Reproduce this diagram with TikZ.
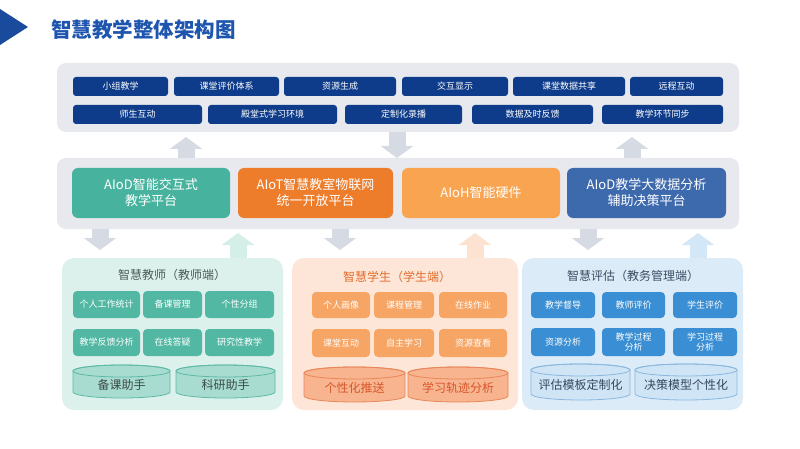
\documentclass[tikz,border=0pt]{standalone}
\usepackage{fontspec}
\setmainfont{Noto Sans CJK SC}
\usetikzlibrary{arrows.meta}
\definecolor{titleblue}{HTML}{1E55AE}
\definecolor{tri}{HTML}{1A4A9C}
\definecolor{panelgray}{HTML}{E7E9EF}
\definecolor{navy}{HTML}{0E3C8A}
\definecolor{teal1}{HTML}{47B39E}
\definecolor{orange1}{HTML}{EE7D2B}
\definecolor{orange2}{HTML}{F9A450}
\definecolor{blue1}{HTML}{3D69AD}
\definecolor{arrgray}{HTML}{D6DAE3}
\definecolor{arrteal}{HTML}{D4EEE8}
\definecolor{arrorange}{HTML}{FCE3D1}
\definecolor{arrblue}{HTML}{D3E7F6}
\definecolor{tpanel}{HTML}{DDF1EC}
\definecolor{tgrid}{HTML}{52B8A4}
\definecolor{ttitle}{HTML}{4B5B58}
\definecolor{tcylf}{HTML}{A8DCD0}
\definecolor{tcyld}{HTML}{5DB9A6}
\definecolor{tcylt}{HTML}{3B4B48}
\definecolor{opanel}{HTML}{FDE6D7}
\definecolor{ogrid}{HTML}{F6A565}
\definecolor{otitle}{HTML}{E06C2C}
\definecolor{ocylf}{HTML}{F7B48F}
\definecolor{ocyld}{HTML}{E8875A}
\definecolor{ocylt}{HTML}{D8562B}
\definecolor{bpanel}{HTML}{DCEBF8}
\definecolor{bgrid}{HTML}{3A8ED3}
\definecolor{btitle}{HTML}{3B4D63}
\definecolor{bcylf}{HTML}{CFE4F5}
\definecolor{bcyld}{HTML}{8AB7DD}
\definecolor{bcylt}{HTML}{34495E}
\newcommand\bx[7]{\node[#6, minimum width={(#4-#2)*1pt}, minimum height={(#5-#3)*1pt}] (#1) at ({(#2+#4)/2},{(#3+#5)/2}) {#7};}
\newcommand\mycyl[9]{%
  \pgfmathsetmacro\cyX{(#2+#4)/2}\pgfmathsetmacro\cyR{(#4-#2)/2}%
  \filldraw[fill=#6, draw=#7, line width=0.8pt] (#2,#3+6) -- (#2,#5-6)
    arc[start angle=180, end angle=360, x radius=\cyR pt, y radius=6pt] -- (#4,#3+6)
    arc[start angle=0, end angle=180, x radius=\cyR pt, y radius=6pt] -- cycle;
  \draw[draw=#7, line width=0.8pt] (\cyX,#3+6) ellipse[x radius=\cyR pt, y radius=6pt];
  \node[cyltext, text=#8] (#1) at (\cyX,{(#3+#5)/2+3}) {#9};%
}
\begin{document}
\begin{tikzpicture}[x=1pt,y=-1pt,
  every node/.style={inner sep=0pt, outer sep=0pt},
  panel/.style={fill=panelgray, rounded corners=9pt},
  topbox/.style={fill=navy, rounded corners=3pt, text=white, font=\fontsize{9}{10}\selectfont},
  midbox/.style={rounded corners=6pt, text=white, align=center, font=\fontsize{13}{16}\selectfont},
  subpanel/.style={rounded corners=12pt},
  subtitle/.style={font=\fontsize{12}{14}\selectfont},
  grid/.style={rounded corners=4pt, text=white, align=center, font=\fontsize{9}{10.5}\selectfont},
  cyltext/.style={font=\fontsize{12}{14}\selectfont},
  bigarrow/.style={line width=17pt, -{Triangle[width=32pt,length=12pt]}}
]
\useasboundingbox[fill=white] (0,0) rectangle (800,449);

% title
\fill[tri] (0,9) -- (28,27) -- (0,45) -- cycle;
\node[anchor=west, text=titleblue, font=\bfseries\fontsize{20.5}{24}\selectfont] (title) at (51,30) {智慧教学整体架构图};

% top panel
\bx{top}{57}{63}{739}{132}{panel}{}
\bx{t1}{73}{77}{168}{96}{topbox}{小组教学}
\bx{t2}{174}{77}{279}{96}{topbox}{课堂评价体系}
\bx{t3}{284}{77}{396}{96}{topbox}{资源生成}
\bx{t4}{402}{77}{508}{96}{topbox}{交互显示}
\bx{t5}{513}{77}{625}{96}{topbox}{课堂数据共享}
\bx{t6}{630}{77}{723}{96}{topbox}{远程互动}
\bx{t7}{73}{105}{202}{124}{topbox}{师生互动}
\bx{t8}{208}{105}{337}{124}{topbox}{殿堂式学习环境}
\bx{t9}{345}{105}{462}{124}{topbox}{定制化录播}
\bx{t10}{472}{105}{593}{124}{topbox}{数据及时反馈}
\bx{t11}{602}{105}{723}{124}{topbox}{教学环节同步}

% middle panel
\bx{mid}{57}{158}{739}{229}{panel}{}
\bx{m1}{72}{168}{230}{218}{midbox, fill=teal1}{AIoD智能交互式\\教学平台}
\bx{m2}{238}{168}{393}{218}{midbox, fill=orange1}{AIoT智慧教室物联网\\统一开放平台}
\bx{m3}{402}{168}{560}{218}{midbox, fill=orange2}{AIoH智能硬件}
\bx{m4}{567}{168}{726}{218}{midbox, fill=blue1}{AIoD教学大数据分析\\辅助决策平台}

% bottom panels
\bx{pt}{62}{258}{283}{410}{subpanel, fill=tpanel}{}
\bx{po}{292}{258}{518}{410}{subpanel, fill=opanel}{}
\bx{pb}{522}{258}{743}{410}{subpanel, fill=bpanel}{}

% arrows top <-> middle
\draw[bigarrow, draw=arrgray] (mid.north -| 186,0) -- ([yshift=-5pt]top.south -| 186,0);
\draw[bigarrow, draw=arrgray] (top.south -| 397,0) -- (mid.north -| 397,0);
\draw[bigarrow, draw=arrgray] (mid.north -| 632,0) -- ([yshift=-5pt]top.south -| 632,0);

% arrows middle <-> bottom
\draw[bigarrow, draw=arrgray] (mid.south -| 100,0) -- ([yshift=8pt]pt.north -| 100,0);
\draw[bigarrow, draw=arrteal] (pt.north -| 238,0) -- ([yshift=-4pt]mid.south -| 238,0);
\draw[bigarrow, draw=arrgray] (mid.south -| 340,0) -- ([yshift=8pt]po.north -| 340,0);
\draw[bigarrow, draw=arrorange] (po.north -| 475,0) -- ([yshift=-4pt]mid.south -| 475,0);
\draw[bigarrow, draw=arrgray] (mid.south -| 588,0) -- ([yshift=8pt]pb.north -| 588,0);
\draw[bigarrow, draw=arrblue] (pb.north -| 698,0) -- ([yshift=-4pt]mid.south -| 698,0);

% teal panel contents
\node[subtitle, text=ttitle] (ptt) at (172,275) {智慧教师（教师端）};
\bx{g1}{73}{291}{140}{318}{grid, fill=tgrid}{个人工作统计}
\bx{g2}{143}{291}{202}{318}{grid, fill=tgrid}{备课管理}
\bx{g3}{205}{291}{274}{318}{grid, fill=tgrid}{个性分组}
\bx{g4}{73}{329}{140}{356}{grid, fill=tgrid}{教学反馈分析}
\bx{g5}{143}{329}{202}{356}{grid, fill=tgrid}{在线答疑}
\bx{g6}{205}{329}{274}{356}{grid, fill=tgrid}{研究性教学}
\mycyl{cya}{73}{365}{170}{398}{tcylf}{tcyld}{tcylt}{备课助手}
\mycyl{cyb}{176}{365}{275}{398}{tcylf}{tcyld}{tcylt}{科研助手}

% orange panel contents
\node[subtitle, text=otitle] (pot) at (397,277) {智慧学生（学生端）};
\bx{h1}{312}{292}{370}{318}{grid, fill=ogrid}{个人画像}
\bx{h2}{374}{292}{434}{318}{grid, fill=ogrid}{课程管理}
\bx{h3}{439}{292}{507}{318}{grid, fill=ogrid}{在线作业}
\bx{h4}{312}{329}{370}{357}{grid, fill=ogrid}{课堂互动}
\bx{h5}{374}{329}{434}{357}{grid, fill=ogrid}{自主学习}
\bx{h6}{439}{329}{507}{357}{grid, fill=ogrid}{资源查看}
\mycyl{cyc}{304}{367}{405}{402}{ocylf}{ocyld}{ocylt}{个性化推送}
\mycyl{cyd}{408}{367}{508}{402}{ocylf}{ocyld}{ocylt}{学习轨迹分析}

% blue panel contents
\node[subtitle, text=btitle] (pbt) at (633,276) {智慧评估（教务管理端）};
\bx{k1}{531}{292}{595}{318}{grid, fill=bgrid}{教学督导}
\bx{k2}{602}{292}{665}{318}{grid, fill=bgrid}{教师评价}
\bx{k3}{673}{292}{737}{318}{grid, fill=bgrid}{学生评价}
\bx{k4}{531}{328}{595}{356}{grid, fill=bgrid}{资源分析}
\bx{k5}{602}{328}{665}{356}{grid, fill=bgrid}{教学过程\\分析}
\bx{k6}{673}{328}{737}{356}{grid, fill=bgrid}{学习过程\\分析}
\mycyl{cye}{531}{364}{630}{400}{bcylf}{bcyld}{bcylt}{评估模板定制化}
\mycyl{cyf}{635}{364}{737}{400}{bcylf}{bcyld}{bcylt}{决策模型个性化}
\end{tikzpicture}
\end{document}
